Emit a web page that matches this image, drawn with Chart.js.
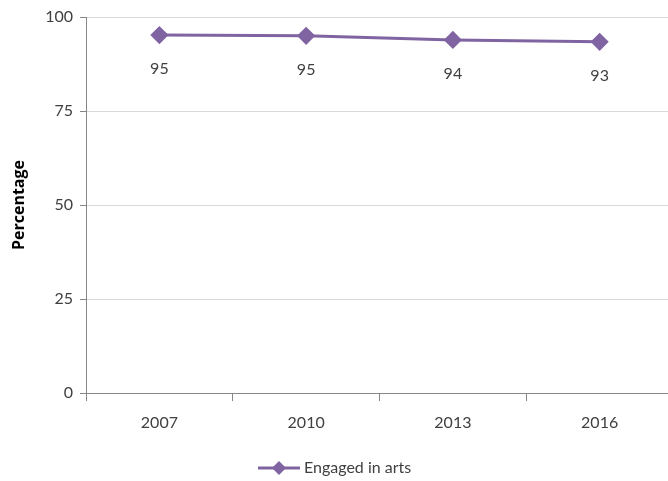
<!DOCTYPE html>
<html>
<head>
<meta charset="utf-8">
<style>
  html, body { margin: 0; padding: 0; background: #fff; overflow: hidden; }
  #wrap { width: 668px; height: 481px; overflow: hidden; }
</style>
</head>
<body>
<div id="wrap"><canvas id="chart1" width="673" height="481"></canvas></div>
<script src="https://cdn.jsdelivr.net/npm/chart.js"></script>
<script>
// values
var years = ['2007', '2010', '2013', '2016'];
var engaged = [95.2, 95.0, 93.9, 93.4];
var yTicks = [0, 25, 50, 75, 100];

var purple = '#8064A2';
var txt = '#404040';

// labels under each point, like the excel data labels
var pointLabels = {
    id: 'pointLabels',
    afterDatasetsDraw: function (chart) {
        var ctx = chart.ctx;
        var meta = chart.getDatasetMeta(0);
        ctx.save();
        ctx.font = '16px Lato';
        ctx.fillStyle = txt;
        ctx.textAlign = 'center';
        ctx.textBaseline = 'middle';
        meta.data.forEach(function (pt, i) {
            ctx.fillText(Math.round(engaged[i]), pt.x, pt.y + 34);
        });
        ctx.restore();
    }
};

// legend: line with a diamond, then the name
var lineLegend = {
    id: 'lineLegend',
    afterDraw: function (chart) {
        var ctx = chart.ctx;
        var y = 468;
        ctx.save();
        ctx.strokeStyle = purple;
        ctx.lineWidth = 3;
        ctx.beginPath();
        ctx.moveTo(258, y);
        ctx.lineTo(300, y);
        ctx.stroke();
        ctx.fillStyle = purple;
        ctx.beginPath();
        ctx.moveTo(279, y - 7);
        ctx.lineTo(286, y);
        ctx.lineTo(279, y + 7);
        ctx.lineTo(272, y);
        ctx.closePath();
        ctx.fill();
        ctx.font = '16px Lato';
        ctx.fillStyle = txt;
        ctx.textBaseline = 'middle';
        ctx.fillText(chart.data.datasets[0].label, 304, y);
        ctx.restore();
    }
};

var chart1 = new Chart(document.getElementById('chart1').getContext('2d'), {
    type: 'line',
    data: {
        labels: years,
        datasets: [{
            label: 'Engaged in arts',
            data: engaged,
            borderColor: purple,
            backgroundColor: purple,
            borderWidth: 3,
            pointStyle: 'rectRot',
            pointRadius: 7,
            pointHoverRadius: 7,
            tension: 0
        }]
    },
    options: {
        responsive: false,
        animation: false,
        devicePixelRatio: 1,
        layout: { autoPadding: false, padding: { top: 17, right: 0, bottom: 0, left: 0 } },
        plugins: { legend: { display: false }, tooltip: { enabled: false } },
        scales: {
            x: {
                offset: true,
                grid: { offset: true, drawOnChartArea: false, color: '#868686', tickLength: 8 },
                border: { color: '#868686' },
                ticks: { color: txt, font: { family: 'Lato', size: 16 }, padding: 12, maxRotation: 0 },
                afterFit: function (s) { s.height = 88; s.paddingLeft = 0; s.paddingRight = 0; }
            },
            y: {
                min: 0,
                max: 100,
                afterBuildTicks: function (s) { s.ticks = yTicks.map(function (v) { return { value: v }; }); },
                grid: { color: '#d9d9d9', tickColor: '#868686', tickLength: 6 },
                border: { color: '#868686' },
                ticks: { color: txt, font: { family: 'Lato', size: 16 }, padding: 7 },
                title: {
                    display: true,
                    text: 'Percentage',
                    color: '#000',
                    font: { family: 'Open Sans', size: 16, weight: 'bold' },
                    padding: { top: 10, bottom: 0 }
                },
                afterFit: function (s) { s.width = 86; }
            }
        }
    },
    plugins: [pointLabels, lineLegend]
});
</script>
</body>
</html>
